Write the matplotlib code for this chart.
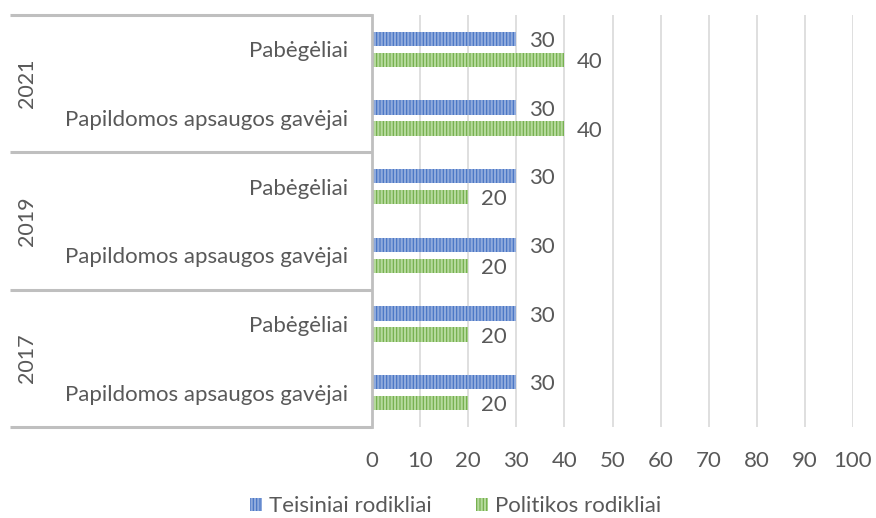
import matplotlib
matplotlib.use("Agg")
import matplotlib.pyplot as plt
import matplotlib.transforms as mtransforms
from matplotlib.patches import Patch
import numpy as np

plt.rcParams['font.family'] = ['Lato', 'DejaVu Sans']
plt.rcParams['hatch.linewidth'] = 1.6

# Data (bottom to top)
years = ["2017", "2019", "2021"]
groups = ["Papildomos apsaugos gavėjai", "Pabėgėliai"]
categories = [g for y in years for g in groups]
legal = [30, 30, 30, 30, 30, 30]
policy = [20, 20, 20, 20, 40, 40]
series_names = ["Teisiniai rodikliai", "Politikos rodikliai"]
xticks = [0, 10, 20, 30, 40, 50, 60, 70, 80, 90, 100]

blue = "#4472C4"
blue_h = "#8FAADC"
green = "#70AD47"
green_h = "#B5D99C"
text_c = "#595959"
line_c = "#BFBFBF"
grid_c = "#D9D9D9"

fig = plt.figure(figsize=(8.76, 5.18), dpi=100)
ax = fig.add_axes([372/876, 1-427/518, 481/876, 412/518])

y = np.arange(len(categories))
h = 0.21
off = 0.153
b1 = ax.barh(y + off, legal, height=h, color=blue, edgecolor=blue_h, linewidth=0, hatch='|||||')
b2 = ax.barh(y - off, policy, height=h, color=green, edgecolor=green_h, linewidth=0, hatch='|||||')

for bars, vals in ((b1, legal), (b2, policy)):
    for r, v in zip(bars, vals):
        ax.annotate(str(v), (r.get_width(), r.get_y() + r.get_height()/2),
                    xytext=(9, -1.5), textcoords='offset points',
                    ha='left', va='center', fontsize=16, color=text_c)

ax.set_xlim(0, 100)
ax.set_ylim(-0.5, len(categories) - 0.5)
ax.set_xticks(xticks)
ax.set_xticklabels([str(t) for t in xticks])
ax.set_yticks(y)
ax.set_yticklabels(categories)
ax.tick_params(axis='x', length=0, labelsize=16, labelcolor=text_c, pad=17)
ax.tick_params(axis='y', length=0, labelsize=16, labelcolor=text_c, pad=17)
ax.xaxis.grid(True, color=grid_c, linewidth=1.2)
ax.set_axisbelow(True)
for s in ['top', 'right', 'bottom']:
    ax.spines[s].set_visible(False)
ax.spines['left'].set_color(line_c)
ax.spines['left'].set_linewidth(2)

trans = mtransforms.blended_transform_factory(ax.transAxes, ax.transData)
x0 = (10 - 372) / 481
for sep in np.arange(-0.5, len(categories), 2):
    ax.plot([x0, 0], [sep, sep], transform=trans, color=line_c, linewidth=2.2,
            clip_on=False, solid_capstyle='butt')
for i, yr in enumerate(years):
    ax.text((27 - 372) / 481, 2*i + 0.5, yr, transform=trans, rotation=90,
            ha='center', va='center', fontsize=15.5, color=text_c)

handles = [Patch(facecolor=blue, edgecolor=blue_h, linewidth=0, hatch='|||||'),
           Patch(facecolor=green, edgecolor=green_h, linewidth=0, hatch='|||||')]
fig.legend(handles, series_names, loc='lower center', bbox_to_anchor=(0.52, -0.035),
           ncol=2, frameon=False, fontsize=16, labelcolor=text_c,
           handlelength=0.55, handleheight=0.55, handletextpad=0.3, columnspacing=2.0)

fig.savefig("out.png", dpi=100)
